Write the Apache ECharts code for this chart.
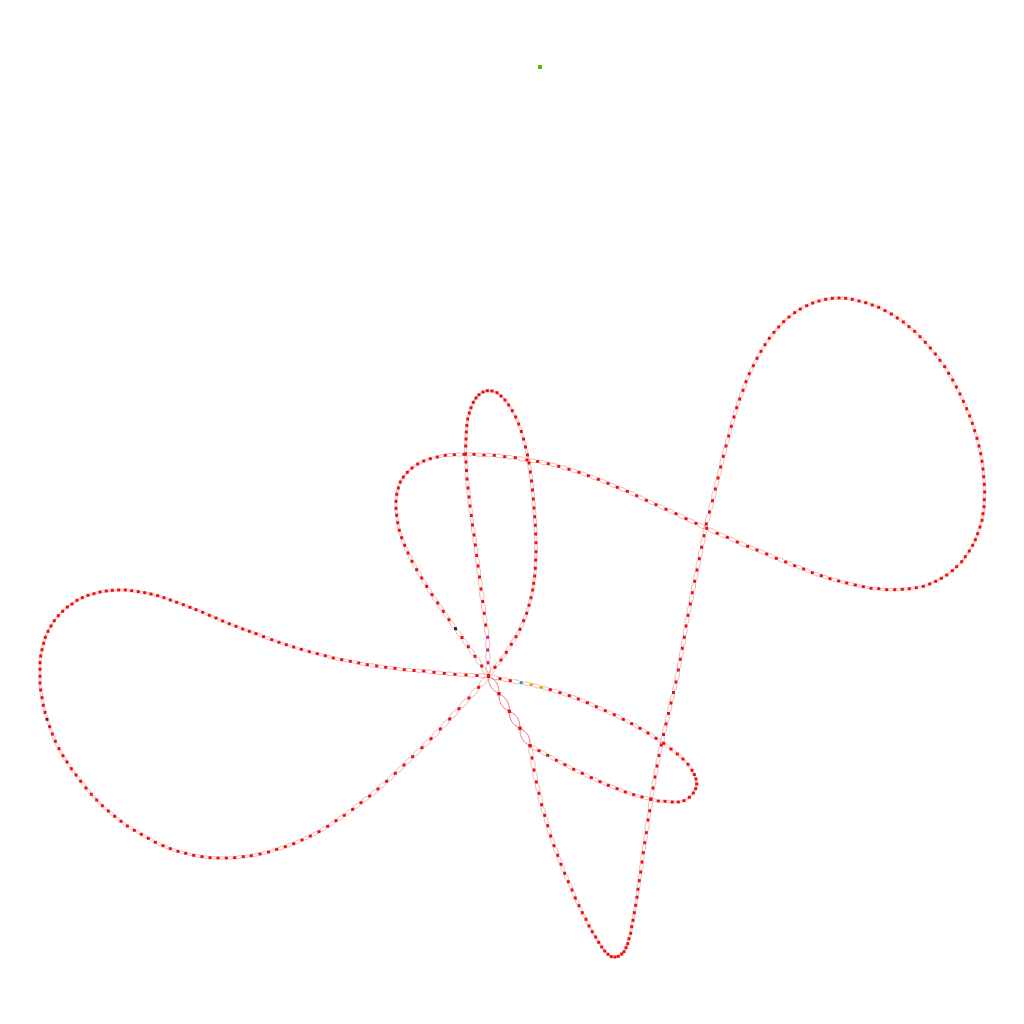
<!DOCTYPE html>
<html>
<head>
<meta charset="utf-8">
<script src="https://cdn.jsdelivr.net/npm/echarts@6/dist/echarts.min.js"></script>
<style>html,body{margin:0;padding:0;background:#fff}#c{width:1024px;height:1024px}</style>
</head>
<body>
<div id="c"></div>
<script>
// Curve points, in traversal order
const center = [488.5, 676];
const leftLobe = [[477,675.5],[466,675],[455,674.3],[444.3,673.3],[434,672.3],[423.7,671],[414,670.5],[404.3,669.7],[395,668.3],[385.7,667.3],[376.7,666],[367.3,664.7],[358.7,663],[350.3,661.3],[341.7,659.7],[333.3,658],[325.3,655.7],[317.3,653.7],[309.3,651.7],[301.3,649.3],[293.7,647],[286.3,644.7],[279,642.3],[271.7,639.7],[263.5,636.7],[256,633.7],[249.3,631.3],[242.7,629],[236,626.3],[229.3,623.7],[222.7,621],[216,618],[209.3,615.3],[202.7,612.3],[196,609.7],[190,607.3],[183.3,604.7],[176.7,602.3],[170.3,600],[164,597.7],[157.7,595.7],[151,594],[144.7,592.7],[138.3,591.7],[131.7,590.7],[125.3,590],[118.7,590],[112.3,590.3],[106.3,591],[100,592],[94,593.7],[88,595.3],[82.3,597.7],[77,600.3],[72,604],[67.3,607],[62.7,611.3],[58.3,615.7],[54.3,620.7],[51,626],[48,631.3],[45.3,637.3],[43.7,643.3],[42,649.7],[40.7,656],[40,662.7],[40,669.3],[40,676.3],[40,683],[40.7,690],[42,697.7],[43.3,705.3],[45,712.3],[47,719.3],[49.7,726.7],[52.3,734],[55.3,741.3],[59,748.7],[63,755.7],[67,762],[71.3,768.7],[76,775],[80.7,781.3],[86,788],[91.3,794.3],[96.7,800],[102.3,805.7],[108.3,811],[114.7,816.3],[121,821.3],[127.3,826],[134.3,830.3],[141.3,834.3],[148.3,838.3],[155.3,842.3],[163,845.7],[170.3,848.7],[178,851.3],[185.7,853.3],[193.7,855.3],[202,856.7],[210,857.7],[218,858],[226.3,858],[234.7,857.7],[243.3,856.7],[251.3,855.7],[260,854],[268.5,852],[276.7,849.3],[285.3,846.7],[293.7,843.7],[302,840],[310.3,836],[319,831.7],[327.7,826.3],[336,820.7],[344.3,815.3],[352.7,809.3],[361,802.7],[369.7,796],[378,789],[386.7,781.3],[395.3,773.3],[404,765],[412.7,756.7],[422,747.7],[431,738.7],[440.3,729],[449.7,719],[459,708.7],[469,698],[478.7,687.3]];
const tallLobe = [[495,667.3],[501,660],[506.3,652.3],[511.3,644.3],[516,636.7],[520,629.3],[523.7,620.7],[526.7,613.3],[529,605.3],[531,597.7],[532.7,590],[533.7,583.3],[534.7,576],[535.3,568.3],[535.7,560],[536,551.7],[536,542.7],[535.7,534],[535.3,525.3],[534.7,516.7],[534,508],[533.3,499],[532.5,490],[531.5,481],[530.3,472],[529,463],[527.5,455],[525.5,447],[523.5,439],[521.3,431.5],[518.7,424],[515.7,417],[512.3,410.7],[508.7,405],[505,400],[501,396],[497,392.7],[492,391],[487.3,390.7],[483,392],[479,394.7],[476,398],[473.3,402.3],[471,407.7],[469.3,413],[467.7,419],[466.8,425.5],[466.3,432],[466,439],[465.7,446],[465.5,454],[466,462],[466.5,470.5],[467,479],[468,488],[469,497],[470,506],[471.3,515.5],[472.5,525],[474,535],[475.3,545],[476.7,555.5],[478,566],[479.5,577],[481,589],[482.7,601.5],[484.2,613.3],[485.7,625],[487.7,637.3],[487.7,650],[488,662.7]];
const downLobe = [[499,693.7],[509.3,711.3],[520,728.3],[530,745.7],[532,758],[534,770],[536.3,782],[539,793.3],[541.7,804.7],[544.7,815.3],[547.7,825.7],[550.7,836],[554,845.7],[557.7,855.3],[561,864.3],[564.7,873.3],[568.3,881.7],[572,890],[575.3,898],[579,905.7],[582.3,912.7],[586,919.3],[589,926],[592.3,931.7],[595.7,937],[598.7,942.3],[601.7,947],[604.7,951],[608,954.3],[611.3,956.7],[615,957],[618.3,956.3],[621.7,954],[624,951.7],[626,947.7],[627.7,943.7],[629,938.7],[630.7,933.3],[631.7,926.7],[633,920.3],[634.3,912.7],[635.7,905.3],[637,897.3],[638,889.3],[639.3,880.7],[640.7,872],[642,862],[643.3,852.7],[644.7,842.7],[646.3,832.7],[648,820],[649.7,810.7],[651,799],[653,788],[655,777],[657,766],[659,755.5],[661.3,745],[663.5,734.5],[666,724],[668.5,713.5],[671,703],[673.5,692.5],[676,682],[678.3,670],[680.3,659.3],[682.3,648.3],[684.3,637.3],[686,626],[688,615.3],[690.3,604],[692.3,592.7],[694.7,581.3],[697,570],[699.3,558.7],[701.7,547.3],[704,535.7],[706.3,524],[709.5,512],[712.5,500.7],[715.3,489],[718,478],[720.7,467],[723.3,456.3],[726,446]];
const bigLobe = [[728.7,436],[731.3,426.3],[734,417],[736.7,407.7],[739.7,399],[743,390.3],[746,381.7],[749.3,373.7],[753.3,365.7],[757,358.3],[761,351.3],[765,344.7],[769.3,338.3],[774,332.3],[778.7,327],[783.7,321.7],[789,317],[794.7,312.7],[800.3,309],[806.7,305.7],[812.7,303],[819,301],[825.7,299.3],[832.3,298.3],[839,298],[845.7,298.3],[852.3,299.3],[859,301],[865.7,302.7],[872.3,305],[878.7,307.3],[885,310.7],[891.3,314],[897.3,318],[903.3,322],[909,326.7],[914.7,331.3],[920,336.7],[925.3,342.3],[930.3,348],[935.3,354],[940,360.3],[944.7,366.7],[948.7,373.3],[952.7,380],[956.3,387],[960,394],[963.3,401.3],[966.7,408.7],[969.7,416],[972.3,423.3],[974.7,430.7],[977,438.3],[979,446],[980.7,453.7],[982,461.3],[983,469],[983.7,476.7],[984.3,484.3],[984.7,492],[984.3,499.7],[984,506.7],[983,513.7],[982,520.3],[980,527],[977.7,533.7],[975.3,539.7],[972.7,545.3],[969.3,551],[965.3,556.7],[961.7,561.7],[956.7,566.7],[952.3,570.7],[946.7,575],[941.3,578.3],[935.7,581.3],[929.7,584],[923.3,586.3],[916.3,587.7],[909.3,588.7],[902.3,589.3],[894.7,589.7],[886.7,589.7],[878.7,588.7],[871,588.3],[863.3,586.7],[855.3,585],[846.7,583],[838.7,581],[830,578.7],[821.3,575.7],[812.3,572.7],[803.7,569],[794.7,565.7],[785.7,562],[776.3,558.3],[766.7,554],[757,550],[747.7,546.3],[737.3,542],[727.3,537.3],[717.3,533.3],[706.7,528.3],[696,523.3],[686,518.7],[676,513.7],[666,509.3],[656,504.7],[646.3,500.3],[636.7,495.7],[627.3,491.3],[617.3,487.3],[608,483.3],[598.3,479.3],[588.3,475.7],[579,472.3],[569,469.3],[558.7,466.3],[548.3,463.7]];
const upperLeftLobe = [[537.7,461.5],[527,460],[515.3,457.7],[504.7,456.7],[494.3,455.3],[484,455],[474,454.3],[464,454.3],[454.3,454.7],[445.3,455.3],[437.3,457],[430.3,458.7],[423.7,461],[417.7,464],[412,468],[407.3,472.3],[403.3,477],[400.3,482],[398.3,488],[396.7,494.3],[396,501.3],[396,508.3],[396.7,515.3],[397.7,522.7],[399.3,530.3],[401.7,537.7],[404.7,545.3],[408,553],[412,561.3],[416.7,569.7],[421.7,578],[426.7,586.3],[432,594.7],[437.7,603],[443.3,611.3],[449,619.7],[455.5,628.7],[462,637.5],[468.3,646.7],[475,656.3],[481.7,666]];
const smallLobe = [[499,693.7],[509.3,711.3],[520,728.3],[530,745.7],[539,750.7],[547.7,755.3],[556.3,760.3],[565,764.7],[573.7,769.3],[582.3,773.3],[591.3,777.7],[600,781.7],[608.3,785.3],[617,788.7],[625.3,792],[633.7,794.7],[642,797],[650.7,799.3],[658.3,801],[665,801.3],[672.3,802],[678.3,802],[684,800.7],[689.3,797.3],[693.3,793],[695.7,788.7],[696.7,784],[696,779],[694.3,774.5],[692,770.3],[688,764.3],[683,759],[677.3,754],[671,749],[663.7,743.3],[656,738.3],[648,733],[640,728.3],[631.7,723.7],[623.3,719.3],[614.3,714.7],[605.3,710.7],[596.3,706.7],[587.3,702.7],[578.3,699],[569.3,695.7],[560,692.7],[550.3,689.7],[541.3,687.3],[531.3,684.7],[521.3,682.7],[510.3,680.7],[500,678.7]];
const strayPoint = [540, 67];

// accent-coloured nodes: [segment, index (negative = from end), colour]
const accents = [
  ['leftLobe', 73, '#7a1010'],
  ['upperLeftLobe', 36, '#2b1a2a'],
  ['tallLobe', -3, '#d01f7a'],
  ['tallLobe', -2, '#d01f7a'],
  ['tallLobe', -1, '#d01f7a'],
  ['smallLobe', 5, '#8a3a1c'],
  ['smallLobe', -5, '#d8b000'],
  ['smallLobe', -4, '#d8b000'],
  ['smallLobe', -3, '#1a9fd0']
];

const segs = {leftLobe, tallLobe, downLobe, bigLobe, upperLeftLobe, smallLobe};
const order = [['c'], ['leftLobe'], ['c'], ['tallLobe'], ['c'], ['downLobe'], ['bigLobe'], ['upperLeftLobe'], ['c'], ['smallLobe']];

const nodes = [];
const accentMap = {};
accents.forEach(a => { const arr = segs[a[0]]; const i = a[1] < 0 ? arr.length + a[1] : a[1]; accentMap[a[0] + ':' + i] = a[2]; });
order.forEach(o => {
  if (o[0] === 'c') { nodes.push({value: center.slice()}); return; }
  segs[o[0]].forEach((p, i) => {
    const col = accentMap[o[0] + ':' + i];
    const n = {value: p.slice()};
    if (col) n.itemStyle = {color: col};
    nodes.push(n);
  });
});
const links = [];
for (let i = 0; i < nodes.length; i++) {
  const j = (i + 1) % nodes.length;
  links.push({source: i, target: j});
  links.push({source: j, target: i});
}
nodes.push({value: strayPoint.slice(), itemStyle: {color: '#5cb800'}, symbolSize: 4});

const chart = echarts.init(document.getElementById('c'));
chart.setOption({
  animation: false,
  backgroundColor: '#ffffff',
  grid: {left: 0, right: 0, top: 0, bottom: 0},
  xAxis: {type: 'value', min: 0, max: 1024, show: false},
  yAxis: {type: 'value', min: 0, max: 1024, inverse: true, show: false},
  series: [{
    type: 'graph',
    coordinateSystem: 'cartesian2d',
    symbol: 'rect',
    symbolSize: 3,
    itemStyle: {color: '#e81010'},
    lineStyle: {color: 'source', opacity: 0.3, width: 1, curveness: 0.35},
    data: nodes,
    links: links
  }]
});
</script>
</body>
</html>
